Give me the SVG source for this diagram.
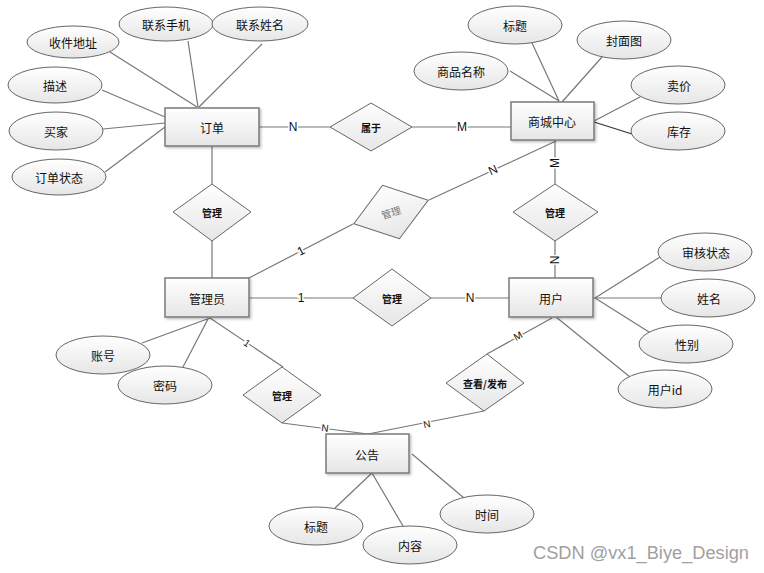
<svg xmlns="http://www.w3.org/2000/svg" width="764" height="573" viewBox="0 0 764 573">
<defs>
<linearGradient id="g" x1="0" y1="0" x2="0" y2="1">
<stop offset="0" stop-color="#ffffff"/>
<stop offset="1" stop-color="#e6e6e6"/>
</linearGradient>
<filter id="sh" x="-10%" y="-10%" width="130%" height="140%">
<feDropShadow dx="1.5" dy="1.5" stdDeviation="1" flood-color="#000" flood-opacity="0.25"/>
</filter>
</defs>
<style>
.ent{fill:url(#g);stroke:#7a7a7a;stroke-width:1.5;filter:url(#sh)}
.att{fill:url(#g);stroke:#666;stroke-width:1}
.rel{fill:url(#g);stroke:#666;stroke-width:1}
.ln{stroke:#777;stroke-width:1.2;fill:none}
.t{font-family:"Noto Sans CJK SC","Noto Sans",sans-serif;font-size:12px;fill:#111;text-anchor:middle;dominant-baseline:central}
.r{font-family:"Noto Sans CJK SC","Noto Sans",sans-serif;font-size:10px;font-weight:bold;fill:#111;text-anchor:middle;dominant-baseline:central}
.lb{font-family:"Liberation Sans","DejaVu Sans",sans-serif;font-size:12px;fill:#111;text-anchor:middle;dominant-baseline:central;stroke:#fff;stroke-width:3;paint-order:stroke}
.ls{font-family:"Liberation Sans","DejaVu Sans",sans-serif;font-size:10px;fill:#111;text-anchor:middle;dominant-baseline:central;stroke:#fff;stroke-width:3;paint-order:stroke}
</style>
<rect width="764" height="573" fill="#fff"/>
<g id="connectors">
<line class="ln" x1="110" y1="52" x2="197" y2="107"/>
<line class="ln" x1="188" y1="41" x2="198" y2="107"/>
<line class="ln" x1="262" y1="44" x2="199" y2="107"/>
<line class="ln" x1="102" y1="90" x2="165" y2="117"/>
<line class="ln" x1="103" y1="129" x2="165" y2="123"/>
<line class="ln" x1="105" y1="172" x2="165" y2="127"/>
<line class="ln" x1="212" y1="146" x2="212" y2="184"/>
<line class="ln" x1="212" y1="241" x2="212" y2="278"/>
<line class="ln" x1="259" y1="127" x2="330" y2="127"/>
<line class="ln" x1="412" y1="127" x2="511" y2="127"/>
<line class="ln" x1="510" y1="71" x2="559" y2="101"/>
<line class="ln" x1="532" y1="43" x2="559" y2="101"/>
<line class="ln" x1="602" y1="57" x2="562" y2="102"/>
<line class="ln" x1="640" y1="97" x2="594" y2="121"/>
<line class="ln" x1="632" y1="134" x2="594" y2="122" style="stroke:#333"/>
<line class="ln" x1="555" y1="140" x2="555" y2="184"/>
<line class="ln" x1="555" y1="241" x2="555" y2="278"/>
<line class="ln" x1="556" y1="141" x2="429" y2="200"/>
<line class="ln" x1="353" y1="224" x2="249" y2="278"/>
<line class="ln" x1="249" y1="298" x2="353" y2="298"/>
<line class="ln" x1="431" y1="298" x2="509" y2="298"/>
<line class="ln" x1="660" y1="257" x2="595" y2="298"/>
<line class="ln" x1="661" y1="298" x2="593" y2="298"/>
<line class="ln" x1="649" y1="332" x2="595" y2="298"/>
<line class="ln" x1="630" y1="377" x2="556" y2="317"/>
<line class="ln" x1="552" y1="318" x2="487" y2="354"/>
<line class="ln" x1="484" y1="411" x2="368" y2="434"/>
<line class="ln" x1="142" y1="343" x2="210" y2="318"/>
<line class="ln" x1="183" y1="367" x2="208" y2="319"/>
<line class="ln" x1="210" y1="318" x2="283" y2="367"/>
<line class="ln" x1="282" y1="423" x2="368" y2="434"/>
<line class="ln" x1="335" y1="508" x2="372" y2="473"/>
<line class="ln" x1="403" y1="526" x2="372" y2="473"/>
<line class="ln" x1="464" y1="498" x2="412" y2="454"/>
<text class="lb" x="293" y="127">N</text>
<text class="lb" x="462" y="127">M</text>
<text class="lb" x="555" y="163" transform="rotate(-90 555 163)">M</text>
<text class="lb" x="555" y="260" transform="rotate(-90 555 260)">N</text>
<text class="lb" x="493" y="170" transform="rotate(-25 493 170)">N</text>
<text class="lb" x="301" y="251" transform="rotate(-27 301 251)">1</text>
<text class="lb" x="301" y="298">1</text>
<text class="lb" x="470" y="298">N</text>
<text class="ls" x="518" y="336" transform="rotate(-29 518 336)">M</text>
<text class="ls" x="247" y="343" transform="rotate(33 247 343)">1</text>
<text class="ls" x="325" y="428" transform="rotate(7 325 428)">N</text>
<text class="ls" x="427" y="424" transform="rotate(-11 427 424)">N</text>
</g>
<g id="order"><rect class="ent" x="165" y="108" width="94" height="38"/><text class="t" x="212" y="127">订单</text></g>
<g id="mall"><rect class="ent" x="511" y="102" width="83" height="38"/><text class="t" x="552" y="121">商城中心</text></g>
<g id="admin"><rect class="ent" x="165" y="278" width="84" height="39"/><text class="t" x="207" y="298">管理员</text></g>
<g id="user"><rect class="ent" x="509" y="278" width="84" height="39"/><text class="t" x="551" y="298">用户</text></g>
<g id="notice"><rect class="ent" x="326" y="434" width="83" height="39"/><text class="t" x="367" y="454">公告</text></g>
<g id="rel-belong"><polygon class="rel" points="330,127 371,103 412,127 371,151"/><text class="r" x="371" y="127">属于</text></g>
<g id="rel-manage1"><polygon class="rel" points="173,212 212,184 251,212 212,241"/><text class="r" x="212" y="212">管理</text></g>
<g id="rel-manage2" transform="rotate(-17.5 391 212)"><polygon class="rel" points="352,212 391,184 430,212 391,240"/><text class="r" x="391" y="212" style="fill:#777;font-weight:normal">管理</text></g>
<g id="rel-manage3"><polygon class="rel" points="353,298 392,269 431,298 392,326"/><text class="r" x="392" y="298">管理</text></g>
<g id="rel-manage4"><polygon class="rel" points="513,212 555,184 598,212 555,241"/><text class="r" x="555" y="212">管理</text></g>
<g id="rel-manage5"><polygon class="rel" points="243,395 282,367 321,395 282,423"/><text class="r" x="282" y="395">管理</text></g>
<g id="rel-view"><polygon class="rel" points="446,383 487,354 524,383 484,411"/><text class="r" x="485" y="383">查看/发布</text></g>
<g id="a-addr"><ellipse class="att" cx="73" cy="42" rx="46" ry="16"/><text class="t" x="73" y="42">收件地址</text></g>
<g id="a-phone"><ellipse class="att" cx="166" cy="24" rx="47" ry="17"/><text class="t" x="166" y="24">联系手机</text></g>
<g id="a-cname"><ellipse class="att" cx="260" cy="24" rx="48" ry="17"/><text class="t" x="260" y="24">联系姓名</text></g>
<g id="a-desc"><ellipse class="att" cx="55" cy="85" rx="47" ry="18"/><text class="t" x="55" y="85">描述</text></g>
<g id="a-buyer"><ellipse class="att" cx="56" cy="131" rx="47" ry="19"/><text class="t" x="56" y="131">买家</text></g>
<g id="a-ostate"><ellipse class="att" cx="59" cy="177" rx="47" ry="18"/><text class="t" x="59" y="177">订单状态</text></g>
<g id="a-title"><ellipse class="att" cx="515" cy="25" rx="47" ry="19"/><text class="t" x="515" y="25">标题</text></g>
<g id="a-cover"><ellipse class="att" cx="624" cy="40" rx="47" ry="19"/><text class="t" x="624" y="40">封面图</text></g>
<g id="a-gname"><ellipse class="att" cx="461" cy="71" rx="47" ry="19"/><text class="t" x="461" y="71">商品名称</text></g>
<g id="a-price"><ellipse class="att" cx="678" cy="85" rx="47" ry="19"/><text class="t" x="679" y="85">卖价</text></g>
<g id="a-stock"><ellipse class="att" cx="678" cy="131" rx="47" ry="19"/><text class="t" x="679" y="131">库存</text></g>
<g id="a-audit"><ellipse class="att" cx="705" cy="252" rx="47" ry="19"/><text class="t" x="706" y="252">审核状态</text></g>
<g id="a-uname"><ellipse class="att" cx="708" cy="298" rx="47" ry="19"/><text class="t" x="709" y="298">姓名</text></g>
<g id="a-sex"><ellipse class="att" cx="686" cy="344" rx="47" ry="19"/><text class="t" x="687" y="344">性别</text></g>
<g id="a-uid"><ellipse class="att" cx="665" cy="389" rx="47" ry="19"/><text class="t" x="665" y="389">用户id</text></g>
<g id="a-acct"><ellipse class="att" cx="103" cy="355" rx="47" ry="19"/><text class="t" x="103" y="355">账号</text></g>
<g id="a-pwd"><ellipse class="att" cx="165" cy="385" rx="47" ry="19"/><text class="t" x="165" y="385">密码</text></g>
<g id="a-ntitle"><ellipse class="att" cx="316" cy="526" rx="47" ry="19"/><text class="t" x="316" y="526">标题</text></g>
<g id="a-content"><ellipse class="att" cx="410" cy="545" rx="47" ry="19"/><text class="t" x="410" y="545">内容</text></g>
<g id="a-time"><ellipse class="att" cx="487" cy="514" rx="47" ry="19"/><text class="t" x="487" y="514">时间</text></g>
<text x="533" y="559" textLength="216" lengthAdjust="spacingAndGlyphs" style="font-family:'Liberation Sans',sans-serif;font-size:18px;fill:#a0a0a0">CSDN @vx1_Biye_Design</text>
</svg>
